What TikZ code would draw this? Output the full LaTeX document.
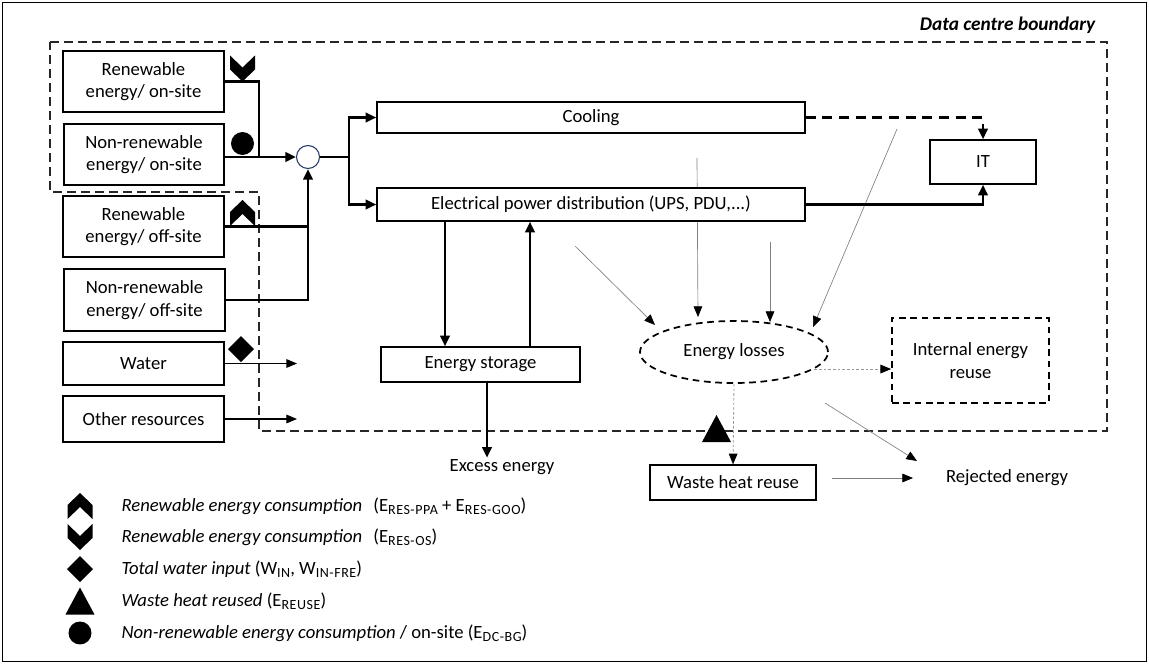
\documentclass[tikz,border=0pt]{standalone}
\usepackage{fontspec}
\setmainfont{Carlito}
\usetikzlibrary{arrows.meta,shapes.geometric}
\definecolor{navy}{RGB}{31,56,100}
\newcommand\mysub[1]{\raisebox{-0.35ex}{\fontsize{10.5}{12}\selectfont\addfontfeatures{LetterSpace=4}#1}}
\begin{document}
\begin{tikzpicture}[x=0.75pt,y=-0.75pt,
  font=\fontsize{14}{17}\selectfont,
  wh/.style 2 args={minimum width=#1*0.75pt, minimum height=#2*0.75pt},
  box/.style={draw, line width=1pt, fill=white, align=center, inner sep=0pt},
  dbox/.style={draw, line width=1.3pt, dash pattern=on 5pt off 3.5pt, fill=white, align=center, inner sep=0pt},
  lbl/.style={inner sep=1pt},
  thickline/.style={line width=2.2pt},
  thickarrow/.style={line width=2.2pt, -{Triangle[length=8pt,width=7pt]}},
  thinarrow/.style={line width=0.8pt, -{Triangle[length=8pt,width=6.5pt]}},
  grayarrow/.style={draw=gray, line width=0.5pt, -{Triangle[length=8pt,width=6.5pt,color=black]}},
  dotarrow/.style={draw=gray!80, line width=0.6pt, dash pattern=on 2pt off 1.5pt, -{Triangle[length=8pt,width=6.5pt,color=black]}},
  boundary/.style={draw=black!85, line width=0.9pt, dash pattern=on 6.5pt off 4pt},
  chevup/.pic={\fill (0,-13) -- (12.5,-1) -- (12.5,13) -- (0,1) -- (-12.5,13) -- (-12.5,-1) -- cycle;},
  chevdown/.pic={\fill (-12.5,-13) -- (0,-1) -- (12.5,-13) -- (12.5,1) -- (0,13) -- (-12.5,1) -- cycle;},
  diam/.pic={\fill (0,-13) -- (13,0) -- (0,13) -- (-13,0) -- cycle;},
  tri/.pic={\fill (-14.5,13.5) -- (0,-13.5) -- (14.5,13.5) -- cycle;},
  bigdot/.pic={\fill (0,0) circle[radius=8.6pt];}
]
\useasboundingbox (0,0) rectangle (1149,664);
\draw[line width=1pt] (2.5,2.5) rectangle (1146.5,661.5);

% data centre boundary
\draw[boundary] (50,42) -- (1107,42) -- (1107,431) -- (259,431) -- (259,192) -- (50,192) -- cycle;
\node[anchor=east, font=\fontsize{14.5}{17}\selectfont\bfseries\itshape] (title) at (1100,25) {Data centre boundary};

% thin gray loss arrows (drawn under boxes)
\coordinate (l1s) at (575,246); \coordinate (l1e) at (655,325);
\coordinate (l2s) at (697,158); \coordinate (l2e) at (698,317);
\coordinate (l3s) at (770,242); \coordinate (l3e) at (770,322);
\coordinate (l4s) at (897,129); \coordinate (l4e) at (813,327);
\draw[grayarrow] (l1s) -- (l1e);
\draw[grayarrow] (l2s) -- (l2e);
\draw[grayarrow] (l3s) -- (l3e);
\draw[grayarrow] (l4s) -- (l4e);

% left column
\node[box, wh={161}{61}] (renon) at (143.5,81.5) {Renewable\\energy/ on-site};
\node[box, wh={160}{61}] (nrenon) at (144,154.5) {Non-renewable\\energy/ on-site};
\node[box, wh={161}{61}] (renoff) at (143.5,226.5) {Renewable\\energy/ off-site};
\node[box, wh={161}{62}] (nrenoff) at (144.5,300) {Non-renewable\\energy/ off-site};
\node[box, wh={161}{43}] (water) at (143.5,363.5) {Water};
\node[box, wh={161}{46}] (other) at (143.5,419) {Other resources};

% middle
\node[box, wh={428}{31}] (cool) at (591,117.5) {Cooling};
\node[box, wh={428}{33}] (epd) at (591,204.5) {Electrical power distribution (UPS, PDU,...)};
\node[box, wh={106}{44}] (it) at (983,162) {IT};
\node[box, wh={199}{35}] (store) at (480.5,364.5) {Energy storage};
\node[ellipse, draw, line width=1.3pt, dash pattern=on 5pt off 3.5pt, fill=white, wh={188}{62}, inner sep=0pt] (loss) at (734,352) {Energy losses};
\node[dbox, wh={157}{85}] (ier) at (970.5,360.5) {Internal energy\\reuse};
\node[box, wh={166}{35}] (whr) at (733,482.5) {Waste heat reuse};
\node[lbl] (excess) at (502,467) {Excess energy};
\node[lbl] (rej) at (1007,478) {Rejected energy};

% mixing circle
\node[circle, draw=navy, line width=0.8pt, fill=white, minimum size=23*0.75pt, inner sep=0pt] (mix) at (308,157) {};

% energy inputs
\coordinate (j1) at (259,157);
\coordinate (j2) at (349,157);
\draw[thickline] (renon.east) -| (j1);
\draw[thickarrow] (nrenon.east |- mix.west) -- (mix.west);
\draw[thickline] (renoff.east) -- (renoff.east -| mix.south);
\draw[thickarrow] (nrenoff.east) -| (mix.south);
\draw[thickline] (mix.east) -- (j2);
\draw[thickarrow] (j2) |- (cool.west);
\draw[thickarrow] (j2) |- (epd.west);

% water / other
\coordinate (wend) at (297,0);
\draw[thinarrow] (water.east) -- (water.east -| wend);
\draw[thinarrow] (other.east) -- (other.east -| wend);

% to IT
\draw[thickarrow, dash pattern=on 7.5pt off 5pt] (cool.east) -| (it.north);
\draw[thickarrow] (epd.east) -| (it.south);

% storage
\coordinate (g1) at (445,0);
\coordinate (g2) at (530,0);
\coordinate (g3) at (487,0);
\draw[thickarrow] (epd.south -| g1) -- (store.north -| g1);
\draw[thickarrow] (store.north -| g2) -- (epd.south -| g2);
\draw[thickarrow] (store.south -| g3) -- (g3 |- excess.north);

% losses
\draw[dotarrow] (loss.-12) -- (loss.-12 -| ier.west);
\draw[dotarrow] (loss.south) -- (whr.north);
\coordinate (r1s) at (825,403); \coordinate (r1e) at (917,461);
\draw[grayarrow] (r1s) -- (r1e);
\coordinate (r2s) at (832,478); \coordinate (r2e) at (913,478);
\draw[grayarrow] (r2s) -- (r2e);

% markers on diagram
\pic at (242.5,68.5) {chevdown};
\pic at (242.5,143.5) {bigdot};
\pic at (242.5,213) {chevup};
\pic at (241,349) {diam};
\pic at (716.5,428.5) {tri};

% legend
\pic at (80,506) {chevup};
\pic at (80,537) {chevdown};
\pic at (80,569) {diam};
\pic at (80,601) {tri};
\pic at (80,633) {bigdot};
\node[lbl, anchor=west] (leg1) at (120,506) {\textit{Renewable energy consumption}\hspace{0.6em}(E\mysub{RES-PPA} + E\mysub{RES-GOO})};
\node[lbl, anchor=west] (leg2) at (120,537) {\textit{Renewable energy consumption}\hspace{0.6em}(E\mysub{RES-OS})};
\node[lbl, anchor=west] (leg3) at (120,569) {\textit{Total water input} (W\mysub{IN}, W\mysub{IN-FRE})};
\node[lbl, anchor=west] (leg4) at (120,601) {\textit{Waste heat reused} (E\mysub{REUSE})};
\node[lbl, anchor=west] (leg5) at (120,633) {\textit{Non-renewable energy consumption} / on-site (E\mysub{DC-BG})};
\end{tikzpicture}
\end{document}
